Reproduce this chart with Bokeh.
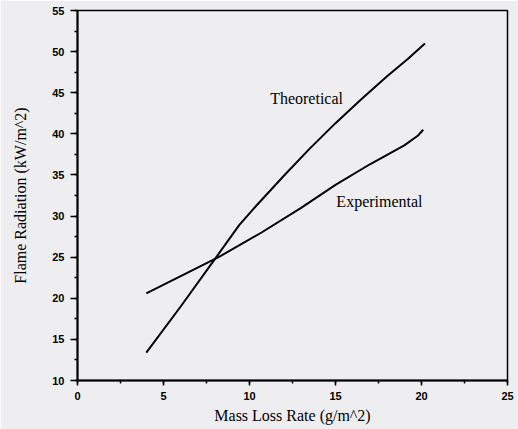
from bokeh.plotting import figure
from bokeh.models import Range1d, SingleIntervalTicker, Label
from bokeh.embed import file_html
from bokeh.resources import INLINE

# Flame radiation versus mass loss rate
mass_loss_theoretical = [4.0, 6.0, 8.1, 9.4, 10.5, 12.0, 13.5, 15.0, 16.5, 18.0, 19.2, 20.2]
radiation_theoretical = [13.4, 19.0, 25.1, 28.9, 31.5, 34.9, 38.2, 41.3, 44.2, 47.0, 49.1, 51.0]

mass_loss_experimental = [4.0, 6.0, 8.2, 10.7, 13.0, 15.0, 17.0, 19.0, 19.8, 20.1]
radiation_experimental = [20.6, 22.7, 25.0, 28.0, 31.0, 33.8, 36.3, 38.6, 39.8, 40.5]

series_names = ["Theoretical", "Experimental"]

BG = "#eeeef0"
SERIF = "Liberation Serif"
SANS = "Liberation Sans"

p = figure(
    width=518, height=429,
    x_range=Range1d(0, 25), y_range=Range1d(10, 55),
    output_backend="svg", toolbar_location=None,
    background_fill_color=BG, border_fill_color=BG,
    min_border_left=77, min_border_right=11,
    min_border_top=10, min_border_bottom=49,
)
p.grid.visible = False
p.outline_line_color = "black"
p.outline_line_width = 1.5

p.xaxis.ticker = SingleIntervalTicker(interval=5, num_minor_ticks=2)
p.yaxis.ticker = SingleIntervalTicker(interval=5, num_minor_ticks=2)

for ax in (p.xaxis, p.yaxis):
    ax.axis_line_width = 2
    ax.axis_line_color = "black"
    ax.major_tick_line_color = "black"
    ax.major_tick_line_width = 1.5
    ax.minor_tick_line_color = "black"
    ax.minor_tick_line_width = 1.5
    ax.major_tick_in = 0
    ax.minor_tick_in = 0
    ax.major_label_text_font = SANS
    ax.major_label_text_font_style = "bold"
    ax.major_label_text_font_size = "11px"
    ax.major_label_text_color = "black"
    ax.axis_label_text_font = SERIF
    ax.axis_label_text_font_style = "normal"
    ax.axis_label_text_font_size = "16px"
    ax.axis_label_text_color = "black"

p.xaxis.major_tick_out = 5
p.xaxis.minor_tick_out = 3
p.xaxis.major_label_standoff = 6
p.xaxis.axis_label_standoff = 4
p.xaxis.axis_label = "Mass Loss Rate (g/m^2)"

p.yaxis.major_tick_out = 7
p.yaxis.minor_tick_out = 3
p.yaxis.major_label_standoff = 6
p.yaxis.axis_label_standoff = 20
p.yaxis.axis_label = "Flame Radiation (kW/m^2)"

p.line(mass_loss_theoretical, radiation_theoretical, line_color="black", line_width=2)
p.line(mass_loss_experimental, radiation_experimental, line_color="black", line_width=2)

for name, x, y in ((series_names[0], 11.2, 44.3), (series_names[1], 15.05, 31.8)):
    p.add_layout(Label(
        x=x, y=y, text=name,
        text_font=SERIF, text_font_size="16px",
        text_color="black", text_baseline="middle",
    ))

open("out.html", "w").write(file_html(p, INLINE))
